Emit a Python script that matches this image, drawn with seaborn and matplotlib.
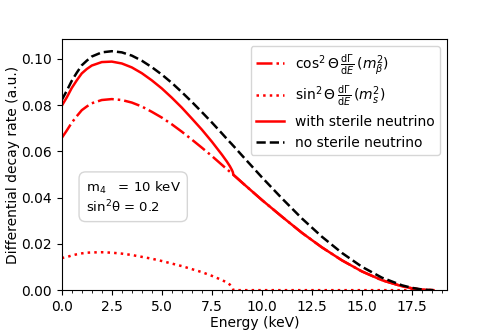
import matplotlib
matplotlib.use('Agg')
import matplotlib.pyplot as plt
from matplotlib.ticker import AutoMinorLocator
import seaborn as sns

# values (energy in keV, rate in a.u.)
energy = [0, 0.25, 0.5, 0.75, 1, 1.25, 1.5, 2, 2.5, 3, 3.5, 4, 4.5, 5, 5.5, 6, 6.5, 7,
          7.5, 8, 8.25, 8.4, 8.5, 8.55, 8.574, 9, 10, 11, 12, 13, 14, 15, 16, 17,
          17.5, 18, 18.3, 18.574]

no_sterile = [0.0822, 0.0862, 0.0905, 0.0940, 0.0972, 0.0992, 0.1010, 0.1028, 0.1033,
              0.1028, 0.1014, 0.0992, 0.0964, 0.0932, 0.0896, 0.0856, 0.0814, 0.0770,
              0.0725, 0.0678, 0.0654, 0.0640, 0.0631, 0.0626, 0.0624, 0.0583, 0.0488,
              0.0397, 0.0310, 0.0231, 0.0161, 0.0101, 0.0054, 0.0021, 0.0010, 0.0003,
              0.0001, 0.0]

cos_part = [0.0658, 0.0690, 0.0724, 0.0752, 0.0778, 0.0794, 0.0808, 0.0822, 0.0826,
            0.0822, 0.0811, 0.0794, 0.0771, 0.0746, 0.0717, 0.0685, 0.0651, 0.0616,
            0.0580, 0.0542, 0.0523, 0.0512, 0.0505, 0.0501, 0.0499, 0.0466, 0.0390,
            0.0318, 0.0248, 0.0185, 0.0129, 0.0081, 0.0043, 0.0017, 0.0008, 0.0002,
            0.0001, 0.0]

sin_part = [0.0139, 0.0143, 0.0150, 0.0155, 0.0159, 0.0162, 0.0163, 0.0164, 0.0162,
            0.0158, 0.0152, 0.0144, 0.0136, 0.0126, 0.0115, 0.0104, 0.0091, 0.0078,
            0.0062, 0.0044, 0.0033, 0.0024, 0.0015, 0.0009, 0.0, 0.0, 0.0,
            0.0, 0.0, 0.0, 0.0, 0.0, 0.0, 0.0, 0.0, 0.0,
            0.0, 0.0]

with_sterile = [0.0797, 0.0833, 0.0874, 0.0907, 0.0937, 0.0956, 0.0971, 0.0986, 0.0988,
                0.0980, 0.0963, 0.0938, 0.0907, 0.0872, 0.0832, 0.0789, 0.0742, 0.0694,
                0.0642, 0.0586, 0.0556, 0.0536, 0.0520, 0.0510, 0.0499, 0.0466, 0.0390,
                0.0318, 0.0248, 0.0185, 0.0129, 0.0081, 0.0043, 0.0017, 0.0008, 0.0002,
                0.0001, 0.0]

fig = plt.figure(figsize=(4.98, 3.32), dpi=100)
ax = fig.add_axes([0.124, 0.126, 0.774, 0.756])

lw = 1.8
sns.lineplot(x=energy, y=cos_part, ax=ax, color='red', linestyle='-.', linewidth=lw,
             label=r'$\cos^2\Theta\,\frac{\mathrm{d}\Gamma}{\mathrm{d}E}\,(m_\beta^2)$')
sns.lineplot(x=energy, y=sin_part, ax=ax, color='red', linestyle=':', linewidth=lw,
             label=r'$\sin^2\Theta\,\frac{\mathrm{d}\Gamma}{\mathrm{d}E}\,(m_s^2)$')
sns.lineplot(x=energy, y=with_sterile, ax=ax, color='red', linestyle='-', linewidth=lw,
             label='with sterile neutrino')
sns.lineplot(x=energy, y=no_sterile, ax=ax, color='black', linestyle='--', linewidth=lw,
             label='no sterile neutrino')

ax.set_xlim(0, 19.26)
ax.set_ylim(0, 0.1085)
ax.xaxis.set_minor_locator(AutoMinorLocator())
ax.set_xlabel('Energy (keV)', labelpad=1.5)
ax.set_ylabel('Differential decay rate (a.u.)', labelpad=1)
ax.legend(loc='upper right')

ax.text(0.062, 0.37, 'm$_4$   = 10 keV\nsin$^2$θ = 0.2', transform=ax.transAxes,
        va='center', ha='left', fontsize=9.5,
        bbox=dict(boxstyle='round,pad=0.5', facecolor='white', edgecolor='0.8', alpha=0.8))

plt.savefig('out.png', dpi=100)
